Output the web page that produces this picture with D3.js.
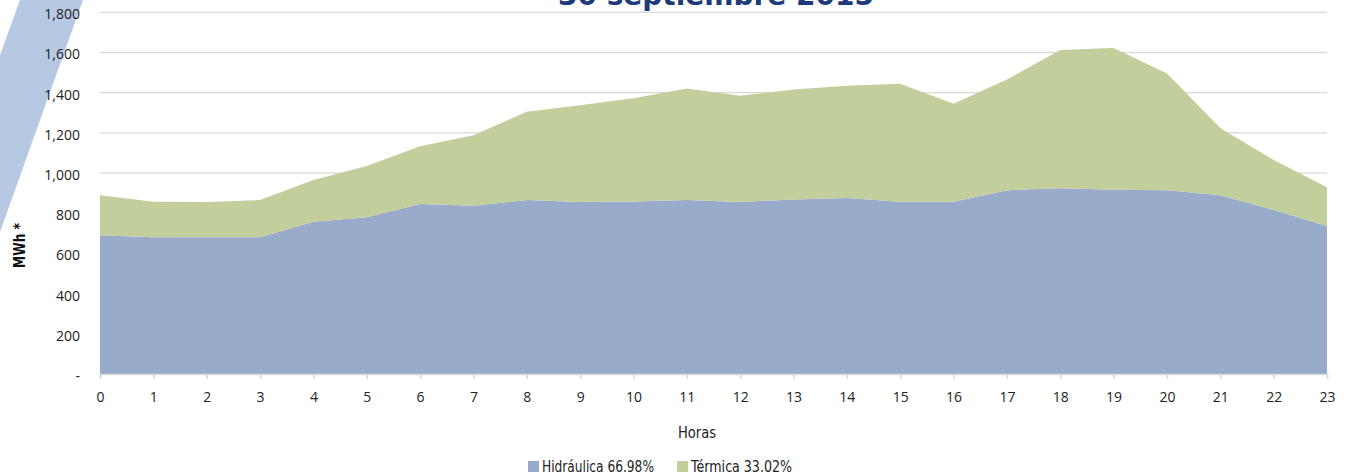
<!DOCTYPE html>
<html>
<head>
<meta charset="utf-8">
<script src="https://cdn.jsdelivr.net/npm/d3@7"></script>
<style>
  html, body { margin: 0; padding: 0; background: #fff; }
  svg { display: block; }
</style>
</head>
<body>
<svg id="chart" width="1348" height="475"></svg>
<script>
const hours = d3.range(0, 24);
const hidraulica = [690, 680, 680, 680, 758, 780, 846, 837, 866, 856, 858, 866, 856, 869, 876, 857, 857, 915, 925, 917, 915, 890, 816, 736];
const termica    = [200, 177, 176, 186, 207, 255, 288, 351, 439, 482, 514, 555, 529, 547, 558, 587, 488, 551, 687, 705, 581, 334, 249, 193];
const yTicks = [0, 200, 400, 600, 800, 1000, 1200, 1400, 1600, 1800];
const seriesNames = ["Hidráulica 66.98%", "Térmica 33.02%"];
const seriesColors = ["#98abca", "#c2ce9b"];
const title = "30 septiembre 2015";

(function () {
const svg = d3.select("#chart");
const mLeft = 100, mRight = 1327, mTop = 12.3, mBottom = 374;
const narrow = "'DejaVu Sans', sans-serif";

// decorative band
svg.append("polygon")
  .attr("points", "20,0 83,0 0,232 0,55")
  .attr("fill", "#b7c9e2");

const x = d3.scaleLinear().domain([0, 23]).range([mLeft, mRight]);
const y = d3.scaleLinear().domain([0, 1800]).range([mBottom, mTop]);

// gridlines
svg.append("g").selectAll("line")
  .data(yTicks.filter(d => d > 0))
  .join("line")
  .attr("x1", mLeft).attr("x2", mRight)
  .attr("y1", d => y(d)).attr("y2", d => y(d))
  .attr("stroke", "#d9d9d9").attr("stroke-width", 1.3);

// stacked areas
const rows = hours.map((h, i) => ({ h, hid: hidraulica[i], ter: termica[i] }));
const stacked = d3.stack().keys(["hid", "ter"])(rows);
const area = d3.area()
  .x(d => x(d.data.h))
  .y0(d => y(d[0]))
  .y1(d => y(d[1]));
svg.append("g").selectAll("path")
  .data(stacked)
  .join("path")
  .attr("d", area)
  .attr("fill", (d, i) => seriesColors[i]);

// x axis
const xAxis = d3.axisBottom(x).tickValues(hours).tickSize(5).tickPadding(13).tickFormat(d3.format("d"));
const gx = svg.append("g").attr("transform", `translate(0,${mBottom})`).call(xAxis);
gx.select(".domain").attr("stroke", "#d9d9d9").attr("stroke-width", 1.5);
gx.selectAll(".tick line").attr("stroke", "#d9d9d9").attr("stroke-width", 1.5);
gx.selectAll("text").attr("font-family", "'Open Sans', sans-serif").attr("font-size", 14).attr("fill", "#222");

// y axis
const yAxis = d3.axisLeft(y).tickValues(yTicks).tickSize(0).tickPadding(20)
  .tickFormat(d => d === 0 ? "-" : d3.format(",")(d));
const gy = svg.append("g").attr("transform", `translate(${mLeft},2)`).call(yAxis);
gy.select(".domain").remove();
gy.selectAll("text").attr("font-family", "'Open Sans', sans-serif").attr("font-size", 14).attr("fill", "#222");

// title
svg.append("text")
  .attr("x", 716).attr("y", 5)
  .attr("text-anchor", "middle")
  .attr("font-family", "'DejaVu Sans', sans-serif")
  .attr("font-weight", "bold")
  .attr("font-size", 28)
  .attr("fill", "#1f3a7a")
  .text(title);

// axis titles
svg.append("text")
  .attr("x", 678).attr("y", 438)
  .attr("font-family", narrow)
  .attr("font-size", 16)
  .attr("textLength", 38)
  .attr("lengthAdjust", "spacingAndGlyphs")
  .attr("fill", "#222")
  .text("Horas");

svg.append("text")
  .attr("transform", "translate(25,268) rotate(-90)")
  .attr("font-family", narrow)
  .attr("font-weight", "bold")
  .attr("font-size", 15)
  .attr("textLength", 45)
  .attr("lengthAdjust", "spacingAndGlyphs")
  .attr("fill", "#111")
  .text("MWh *");

// legend
const legendX = [528, 677];
const legendW = [112, 101];
seriesNames.forEach((name, i) => {
  svg.append("rect")
    .attr("x", legendX[i]).attr("y", 461)
    .attr("width", 11).attr("height", 11)
    .attr("fill", seriesColors[i]);
  svg.append("text")
    .attr("x", legendX[i] + 14).attr("y", 472)
    .attr("font-family", narrow)
    .attr("font-size", 16)
    .attr("textLength", legendW[i])
    .attr("lengthAdjust", "spacingAndGlyphs")
    .attr("fill", "#222")
    .text(name);
});
})();
</script>
</body>
</html>
